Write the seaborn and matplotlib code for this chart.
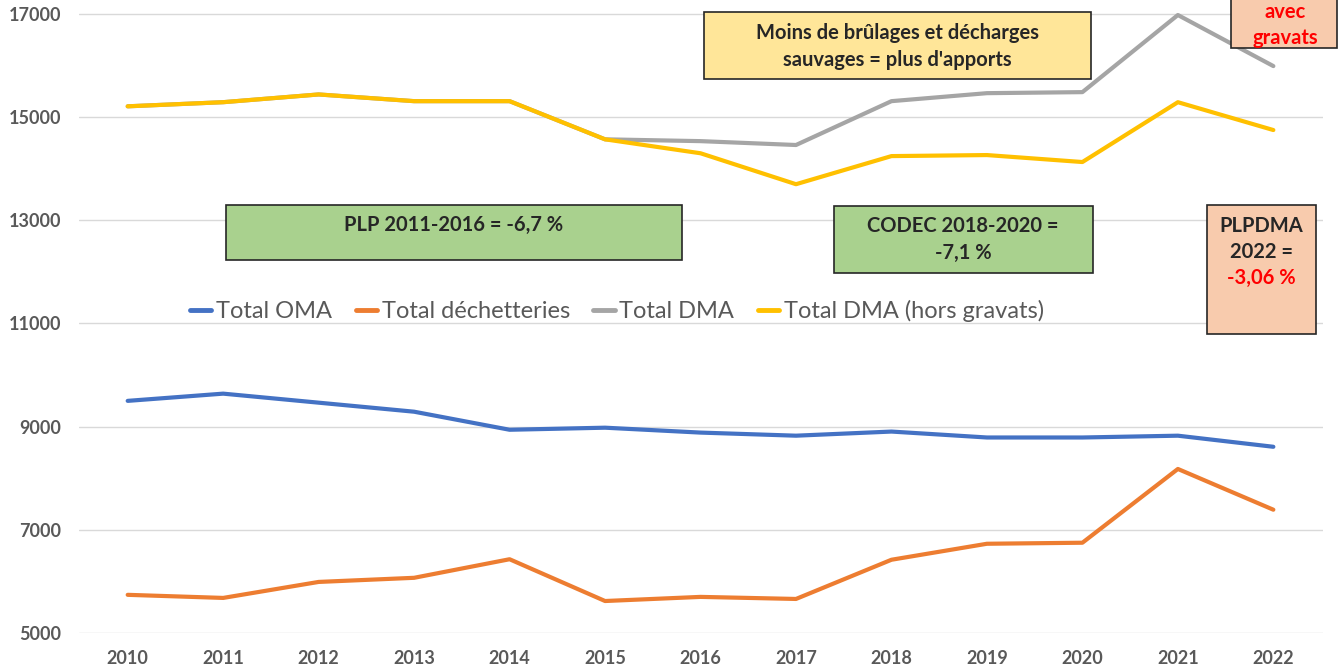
import matplotlib
matplotlib.use("Agg")
import matplotlib.pyplot as plt
from matplotlib.patches import Rectangle
import seaborn as sns
import pandas as pd

# Données (tonnes)
annees = list(range(2010, 2023))
total_oma = [9500, 9640, 9465, 9290, 8940, 8980, 8885, 8825, 8905, 8790, 8790, 8825, 8610]
total_decheteries = [5740, 5680, 5990, 6070, 6430, 5620, 5700, 5660, 6420, 6730, 6750, 8180, 7390]
total_dma = [15210, 15290, 15440, 15310, 15310, 14570, 14535, 14460, 15310, 15465, 15485, 16980, 15990]
total_dma_hg = [15210, 15290, 15440, 15310, 15310, 14570, 14300, 13700, 14245, 14265, 14130, 15290, 14750]

series = ["Total OMA", "Total déchetteries", "Total DMA", "Total DMA (hors gravats)"]
couleurs = ["#4472C4", "#ED7D31", "#A5A5A5", "#FFC000"]
yticks = [5000, 7000, 9000, 11000, 13000, 15000, 17000]

df = pd.DataFrame({
    "Année": annees * 4,
    "Tonnage": total_oma + total_decheteries + total_dma + total_dma_hg,
    "Série": [s for s in series for _ in annees],
})

sns.set_style("white")
plt.rcParams["font.family"] = ["Lato", "DejaVu Sans"]

W, H = 1344, 669
fig = plt.figure(figsize=(W / 100, H / 100), dpi=100)
ax = fig.add_axes([79 / W, (H - 633) / H, (1323 - 79) / W, 633 / H])

sns.lineplot(data=df, x="Année", y="Tonnage", hue="Série", hue_order=series,
             palette=couleurs, linewidth=3, ax=ax, legend=False)

ax.set_xlim(2009.49, 2022.52)
ax.set_ylim(5000, 17271)
ax.set_xticks(annees)
ax.set_yticks(yticks)
ax.set_xlabel("")
ax.set_ylabel("")
ax.grid(axis="y", color="#D9D9D9", linewidth=1)
ax.set_axisbelow(True)
for s in ax.spines.values():
    s.set_visible(False)
ax.tick_params(axis="both", length=0, labelsize=13, labelcolor="#595959")
ax.tick_params(axis="y", pad=13)
ax.tick_params(axis="x", pad=12)
for lab in ax.get_xticklabels() + ax.get_yticklabels():
    lab.set_fontweight("bold")

# Légende
handles = [plt.Line2D([], [], color=c, linewidth=3.5) for c in couleurs]
fig.legend(handles, series, loc="center", bbox_to_anchor=(617 / W, 1 - 311 / H),
           ncol=4, frameon=False, fontsize=17, labelcolor="#595959",
           handlelength=0.9, handletextpad=0.2, columnspacing=1.0)


def boite(x0, y0, x1, y1, couleur):
    r = Rectangle((x0 / W, 1 - y1 / H), (x1 - x0) / W, (y1 - y0) / H,
                  transform=fig.transFigure, facecolor=couleur,
                  edgecolor="#262626", linewidth=1.2, zorder=5)
    fig.add_artist(r)


def texte(x, y, t, couleur="#262626"):
    fig.text(x / W, 1 - y / H, t, ha="center", va="center", fontsize=14.5,
             fontweight="bold", color=couleur, zorder=6)


boite(704, 12, 1091, 79, "#FFE699")
texte(897, 33, "Moins de brûlages et décharges")
texte(897, 60, "sauvages = plus d'apports")

boite(226, 205, 682, 260, "#A9D18E")
texte(454, 225, "PLP 2011-2016 = -6,7 %")

boite(834, 206, 1093, 273, "#A9D18E")
texte(963, 226, "CODEC 2018-2020 =")
texte(963, 253, "-7,1 %")

boite(1207, 205, 1316, 334, "#F8CBAD")
texte(1261, 226, "PLPDMA")
texte(1261, 252, "2022 =")
texte(1261, 278, "-3,06 %", "#FF0000")

boite(1231, -10, 1337, 48, "#F8CBAD")
texte(1285, 12, "avec", "#FF0000")
texte(1285, 38, "gravats", "#FF0000")

fig.savefig("out.png", dpi=100)
